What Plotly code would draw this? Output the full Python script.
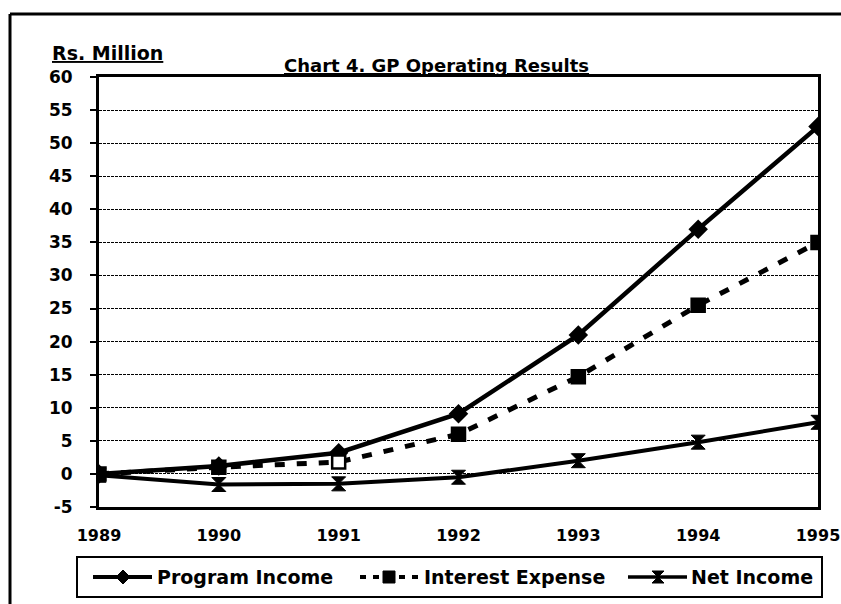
import plotly.graph_objects as go

# Series data (Rs. Million)
years = [1989, 1990, 1991, 1992, 1993, 1994, 1995]
year_labels = ["1989", "1990", "1991", "1992", "1993", "1994", "1995"]
program_income = [0.0, 1.2, 3.2, 9.1, 21.0, 37.0, 52.5]
interest_expense = [0.0, 1.0, 1.8, 6.0, 14.7, 25.5, 35.0]
net_income = [-0.2, -1.6, -1.5, -0.5, 2.0, 4.8, 7.8]
series_names = ["Program Income", "Interest Expense", "Net Income"]
y_ticks = list(range(-5, 61, 5))
y_tick_labels = [str(v) for v in y_ticks]

FONT = "DejaVu Sans"
W, H = 841, 604
L, R, T, B = 99, 818, 77, 507  # plot area in pixels


def paper_x(px):
    return (px - L) / (R - L)


def paper_y(py):
    return (B - py) / (B - T)


fig = go.Figure()

fig.add_trace(go.Scatter(
    x=years, y=program_income, name=series_names[0], mode="lines+markers",
    line=dict(color="black", width=4.5),
    marker=dict(symbol="diamond", size=15, color="black"),
    showlegend=False,
))
sq_fill = ["black", "black", "white", "black", "black", "black", "black"]
fig.add_trace(go.Scatter(
    x=years, y=interest_expense, name=series_names[1], mode="lines+markers",
    line=dict(color="black", width=5, dash="10px,12px"),
    marker=dict(symbol="square", size=13, color=sq_fill,
                line=dict(color="black", width=2.5)),
    showlegend=False,
))
fig.add_trace(go.Scatter(
    x=years, y=net_income, name=series_names[2], mode="lines+markers",
    line=dict(color="black", width=4),
    marker=dict(symbol="hourglass", size=14, color="black",
                line=dict(color="black", width=1)),
    showlegend=False,
))

shapes = []
# outer frame (left and top)
shapes.append(dict(type="line", xref="paper", yref="paper",
                   x0=paper_x(10), x1=paper_x(10), y0=paper_y(14), y1=paper_y(606),
                   line=dict(color="black", width=3)))
shapes.append(dict(type="line", xref="paper", yref="paper",
                   x0=paper_x(10), x1=paper_x(843), y0=paper_y(14), y1=paper_y(14),
                   line=dict(color="black", width=3)))

# legend: box, line samples, glyphs and labels
leg_y = 577
shapes.append(dict(type="rect", xref="paper", yref="paper",
                   x0=paper_x(77), x1=paper_x(822), y0=paper_y(557), y1=paper_y(597),
                   line=dict(color="black", width=2), fillcolor="rgba(0,0,0,0)"))
for x0, x1, dash, w in [(93, 152, "solid", 4), (360, 418, "6px,7px", 4), (628, 687, "solid", 3.5)]:
    shapes.append(dict(type="line", xref="paper", yref="paper",
                       x0=paper_x(x0), x1=paper_x(x1), y0=paper_y(leg_y), y1=paper_y(leg_y),
                       line=dict(color="black", width=w, dash=dash)))

glyph_paths = {
    "diamond": "M -7 0 L 0 7 L 7 0 L 0 -7 Z",
    "square": "M -6 -6 L 6 -6 L 6 6 L -6 6 Z",
    "hourglass": "M -6 -6 L 6 -6 L -6 6 L 6 6 Z",
}
for sym, cx in zip(["diamond", "square", "hourglass"], [123, 389, 658]):
    shapes.append(dict(type="path", xref="paper", yref="paper",
                       xsizemode="pixel", ysizemode="pixel",
                       xanchor=paper_x(cx), yanchor=paper_y(leg_y),
                       path=glyph_paths[sym], fillcolor="black",
                       line=dict(color="black", width=1)))

annotations = []
for txt, x0 in zip(series_names, [155, 422, 689]):
    annotations.append(dict(text=txt, xref="paper", yref="paper", x=paper_x(x0), y=paper_y(leg_y),
                            xanchor="left", yanchor="middle", showarrow=False,
                            font=dict(family=FONT, size=19, color="black", weight="bold")))
annotations.append(dict(text="<u>Chart 4. GP Operating Results</u>", xref="paper", yref="paper",
                        x=paper_x(436), y=paper_y(66), xanchor="center", yanchor="middle",
                        showarrow=False,
                        font=dict(family=FONT, size=18, color="black", weight="bold")))
annotations.append(dict(text="<u>Rs. Million</u>", xref="paper", yref="paper",
                        x=paper_x(50), y=paper_y(53), xanchor="left", yanchor="middle",
                        showarrow=False,
                        font=dict(family=FONT, size=19, color="black", weight="bold")))

zero_pos = (0 - y_ticks[0]) / (y_ticks[-1] - y_ticks[0])

fig.update_layout(
    width=W, height=H,
    margin=dict(l=L, r=W - R, t=T, b=H - B, pad=0, autoexpand=False),
    paper_bgcolor="white", plot_bgcolor="white",
    showlegend=False,
    shapes=shapes, annotations=annotations,
    xaxis=dict(
        range=[years[0], years[-1]], tickvals=years, ticktext=year_labels,
        showgrid=False, zeroline=False, showline=True, mirror=True,
        linecolor="black", linewidth=3, ticks="", ticklabelstandoff=12,
        ticklabeloverflow="allow", automargin=False,
        tickfont=dict(family=FONT, size=16, color="black", weight="bold"),
    ),
    yaxis=dict(
        range=[y_ticks[0], y_ticks[-1]], tickvals=y_ticks, ticktext=y_tick_labels,
        automargin=False,
        showgrid=True, gridcolor="black", gridwidth=1.3, griddash="3px,1px",
        zeroline=False, showline=True, mirror=True, linecolor="black", linewidth=3,
        ticks="outside", ticklen=6, tickwidth=2, tickcolor="black", ticklabelstandoff=14,
        tickfont=dict(family=FONT, size=17, color="black", weight="bold"),
    ),
    # category axis running along the zero line, with ticks crossing it
    xaxis2=dict(
        overlaying="x", anchor="free", position=zero_pos,
        range=[years[0], years[-1]], tick0=years[0], dtick=0.5,
        showline=True, linecolor="black", linewidth=2, showgrid=False, zeroline=False,
        ticks="outside", ticklen=5, tickwidth=1.5, tickcolor="black", showticklabels=False,
    ),
    xaxis3=dict(
        overlaying="x", anchor="free", position=zero_pos,
        range=[years[0], years[-1]], tick0=years[0], dtick=0.5,
        showline=False, showgrid=False, zeroline=False,
        ticks="inside", ticklen=4, tickwidth=1.5, tickcolor="black", showticklabels=False,
    ),
)

fig.write_html("out.html")
